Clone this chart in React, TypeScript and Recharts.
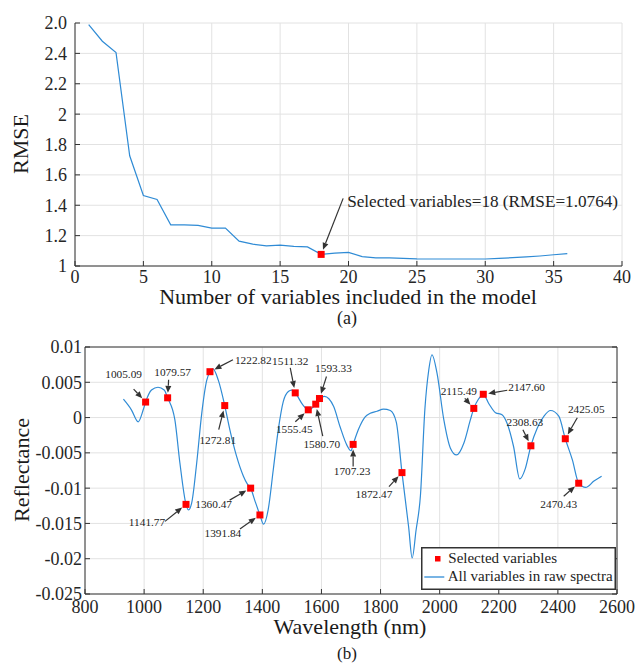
import React from 'react'
import {
    ComposedChart,
    Line,
    Scatter,
    XAxis,
    YAxis,
    CartesianGrid,
    Legend
} from 'recharts'

const serif = 'Liberation Serif, Times New Roman, serif'
const blue = '#2f8bd5'
const dark = '#333333'
const gridColor = '#e2e2e2'

// (a) RMSE against number of variables
const nVars = [1, 2, 3, 4, 5, 6, 7, 8, 9, 10, 11, 12, 13, 14, 15, 16, 17, 18,
    19, 20, 21, 22, 23, 24, 25, 26, 27, 28, 29, 30, 31, 32, 33, 34, 35, 36]
const rmse = [2.59, 2.48, 2.405, 1.726, 1.464, 1.438, 1.271, 1.271, 1.267, 1.249,
    1.249, 1.164, 1.144, 1.133, 1.138, 1.129, 1.126, 1.0764, 1.085, 1.09, 1.062,
    1.054, 1.053, 1.05, 1.047, 1.046, 1.046, 1.046, 1.046, 1.046, 1.05, 1.055,
    1.06, 1.066, 1.074, 1.082]
const bestN = 18
const bestRmse = 1.0764
const nTicks = [0, 5, 10, 15, 20, 25, 30, 35, 40]
const rmseTicks = [1, 1.2, 1.4, 1.6, 1.8, 2, 2.2, 2.4, 2.6]
const rmseTickLabels = ['1', '1.2', '1.4', '1.6', '1.8', '2', '2.2', '2.4', '2.0']

// (b) raw spectrum and the selected wavelengths
const wavelength = [930, 957, 980, 997, 1005.09, 1025, 1047, 1068, 1079.57, 1104,
    1121, 1141.77, 1150, 1161, 1178, 1195, 1212, 1222.82, 1233, 1251, 1272.81,
    1290, 1313, 1336, 1349, 1360.47, 1375, 1391.84, 1404, 1420, 1437, 1454, 1471,
    1488, 1499, 1511.32, 1537, 1555.45, 1580.7, 1593.33, 1610, 1641, 1663, 1686,
    1700, 1707.23, 1725, 1748, 1765, 1788, 1810, 1833, 1853, 1872.47, 1895, 1907,
    1920, 1935, 1950, 1963, 1974, 1991, 2014, 2036, 2057, 2082, 2104, 2115.49,
    2131, 2147.6, 2166, 2189, 2211, 2228, 2250, 2271, 2290, 2308.63, 2330, 2353,
    2375, 2403, 2425.05, 2449, 2470.43, 2494, 2522, 2548]
const reflectance = [0.0026, 0.0011, -0.0006, 0.0011, 0.0022, 0.0039, 0.0043,
    0.0039, 0.0028, -0.0003, -0.0064, -0.0123, -0.0131, -0.0121, -0.0064, 0.0006,
    0.0053, 0.0065, 0.0069, 0.0053, 0.0017, -0.0017, -0.0055, -0.0083, -0.0094,
    -0.01, -0.0118, -0.0138, -0.0151, -0.013, -0.0074, -0.0017, 0.0023, 0.0037,
    0.0039, 0.0035, 0.0018, 0.0011, 0.0019, 0.0027, 0.003, 0.0016, -0.0013,
    -0.0039, -0.0047, -0.0038, -0.0017, 0.0001, 0.0006, 0.0009, 0.0012, 0.001,
    -0.0006, -0.0078, -0.0155, -0.0199, -0.016, -0.011, 0.0012, 0.0067, 0.0089,
    0.0063, -0.0003, -0.0043, -0.0053, -0.0036, -0.0003, 0.0013, 0.0026, 0.0033,
    0.002, 0.0007, 0.0004, -0.0008, -0.0041, -0.0087, -0.0072, -0.004, -0.0015,
    0.0002, 0.001, 0.0002, -0.003, -0.006, -0.0093, -0.0099, -0.009, -0.0083]
const selectedWl = [1005.09, 1079.57, 1141.77, 1222.82, 1272.81, 1360.47, 1391.84,
    1511.32, 1555.45, 1580.70, 1593.33, 1707.23, 1872.47, 2115.49, 2147.60,
    2308.63, 2425.05, 2470.43]
const selectedR = [0.0022, 0.0028, -0.0123, 0.0065, 0.0017, -0.01, -0.0138, 0.0035,
    0.0011, 0.0019, 0.0027, -0.0038, -0.0078, 0.0013, 0.0033, -0.004, -0.003,
    -0.0093]
const wlTicks = [800, 1000, 1200, 1400, 1600, 1800, 2000, 2200, 2400, 2600]
const reflTicks = [-0.025, -0.02, -0.015, -0.01, -0.005, 0, 0.005, 0.01]
const reflTickLabels = ['-0.025', '-0.02', '-0.015', '-0.01', '-0.005', '0', '0.005', '0.01']

// where each wavelength label sits relative to its marker:
// [text dx, text baseline dy, arrow tail dx, arrow tail dy, anchor]
const callouts: [number, number, number, number, string][] = [
    [-22, -24, -12, -13, 'middle'],
    [5, -22, 1, -18, 'middle'],
    [-39, 22, -21, 17, 'middle'],
    [25, -8, 23, -12, 'start'],
    [-7, 38, -6, 24, 'middle'],
    [-37, 20, -21, 12, 'middle'],
    [-37, 22, -20, 14, 'middle'],
    [-5, -28, -5, -25, 'middle'],
    [-14, 23, -13, 12, 'middle'],
    [6, 44, 7, 32, 'middle'],
    [14, -27, 7, -22, 'middle'],
    [-1, 31, 0, 22, 'middle'],
    [-28, 25, -13, 14, 'middle'],
    [-15, -13, -9, -10, 'middle'],
    [25, -3, 24, -4, 'start'],
    [-6, -20, -8, -16, 'middle'],
    [21, -26, 12, -21, 'middle'],
    [-20, 25, -15, 13, 'middle']
]

const rmseData = nVars.map((n, i) => ({ n, rmse: rmse[i] }))
const bestData = [{ n: bestN, rmse: bestRmse }]
const spectrum = wavelength.map((wl, i) => ({ wl, r: reflectance[i] }))
const selected = selectedWl.map((wl, i) => ({ wl, r: selectedR[i], i }))

const labelFrom = (ticks: number[], labels: string[]) => (v: number) => {
    const k = ticks.findIndex(t => Math.abs(t - v) < 1e-9)
    return k >= 0 ? labels[k] : String(v)
}

// serif tick text; bottom ticks hang below the axis, left ticks are centred on it
const makeTick = (fmt: (v: number) => string, side: 'bottom' | 'left') => (p: any) => (
    <text x={p.x} y={p.y} dy={side === 'bottom' ? '0.71em' : '0.355em'}
        textAnchor={side === 'bottom' ? 'middle' : 'end'}
        fontSize={18} fontFamily={serif} fill="#262626">
        {fmt(p.payload.value)}
    </text>
)

const Arrow = ({ x1, y1, x2, y2 }: { x1: number, y1: number, x2: number, y2: number }) => {
    const len = Math.hypot(x2 - x1, y2 - y1) || 1
    const ux = (x2 - x1) / len
    const uy = (y2 - y1) / len
    // stop at the marker edge
    const ex = x2 - ux * 5
    const ey = y2 - uy * 5
    const bx = ex - ux * 7
    const by = ey - uy * 7
    const pts = `${ex},${ey} ${bx - uy * 3},${by + ux * 3} ${bx + uy * 3},${by - ux * 3}`
    return (
        <g>
            <line x1={x1} y1={y1} x2={bx} y2={by} stroke={dark} strokeWidth={1.2} />
            <polygon points={pts} fill={dark} />
        </g>
    )
}

const BestMarker = (props: any) => {
    const { cx, cy } = props
    return (
        <g>
            <Arrow x1={cx + 22} y1={cy - 56} x2={cx} y2={cy} />
            <rect x={cx - 3.5} y={cy - 3.5} width={7} height={7} fill="#ff0000" />
            <text x={cx + 26} y={cy - 47.4} fontSize={17.2} fontFamily={serif} fill="#222">
                {`Selected variables=${bestN} (RMSE=${bestRmse})`}
            </text>
        </g>
    )
}

const SelectedMarker = (props: any) => {
    const { cx, cy, payload } = props
    const [tx, ty, ax, ay, anchor] = callouts[payload.i]
    return (
        <g>
            <Arrow x1={cx + ax} y1={cy + ay} x2={cx} y2={cy} />
            <rect x={cx - 3.5} y={cy - 3.5} width={7} height={7} fill="#ff0000" />
            <text x={cx + tx} y={cy + ty} textAnchor={anchor as any} fontSize={11.3}
                fontFamily={serif} fill="#222">
                {payload.wl.toFixed(2)}
            </text>
        </g>
    )
}

const SpectraLegend = () => (
    <svg width={195} height={43} style={{ display: 'block' }}>
        <rect x={0.75} y={0.75} width={193.5} height={41.5} fill="#fff" stroke={dark} strokeWidth={1.5} />
        <rect x={14} y={9} width={5.5} height={5.5} fill="#ff0000" />
        <text x={27.3} y={15.5} fontSize={15} fontFamily={serif} fill="#222">Selected variables</text>
        <line x1={3.3} y1={30} x2={23.3} y2={30} stroke={blue} strokeWidth={1.3} />
        <text x={26.7} y={34.2} fontSize={15} fontFamily={serif} fill="#222">All variables in raw spectra</text>
    </svg>
)

const App = () => {
    return (
        <div style={{ position: 'absolute', left: 0, top: 0, width: 637, height: 663, background: '#fff', fontFamily: serif }}>
            <div style={{ position: 'absolute', left: 0, top: 0 }}>
                <ComposedChart width={637} height={320} data={rmseData}
                    margin={{ top: 23, right: 15, left: 0, bottom: 24 }}>
                    <CartesianGrid stroke={gridColor} />
                    <XAxis dataKey="n" type="number" domain={[0, 40]} ticks={nTicks} interval={0}
                        height={30} tick={makeTick(String, 'bottom')} tickSize={-5} tickMargin={9}
                        stroke={dark} allowDataOverflow />
                    <YAxis type="number" domain={[1, 2.6]} ticks={rmseTicks} interval={0}
                        width={75} tick={makeTick(labelFrom(rmseTicks, rmseTickLabels), 'left')}
                        tickSize={-5} tickMargin={13} stroke={dark} allowDataOverflow />
                    <Line dataKey="rmse" stroke={blue} strokeWidth={1.2} dot={false}
                        isAnimationActive={false} />
                    <Scatter data={bestData} dataKey="rmse" shape={BestMarker}
                        isAnimationActive={false} />
                </ComposedChart>
            </div>
            <div style={{ position: 'absolute', left: 0, top: 320 }}>
                <ComposedChart width={637} height={343}
                    margin={{ top: 26, right: 19, left: 0, bottom: 39 }}>
                    <CartesianGrid stroke={gridColor} />
                    <XAxis dataKey="wl" type="number" domain={[800, 2600]} ticks={wlTicks}
                        interval={0} height={30} tick={makeTick(String, 'bottom')} tickSize={-5}
                        tickMargin={11} stroke={dark} allowDataOverflow />
                    <XAxis xAxisId="top" orientation="top" type="number" domain={[800, 2600]}
                        ticks={wlTicks} interval={0} height={1} tickSize={-5}
                        tickFormatter={() => ''} stroke={dark} allowDataOverflow />
                    <YAxis dataKey="r" type="number" domain={[-0.025, 0.01]} ticks={reflTicks}
                        interval={0} width={85}
                        tick={makeTick(labelFrom(reflTicks, reflTickLabels), 'left')}
                        tickSize={-5} tickMargin={8} stroke={dark} allowDataOverflow />
                    <YAxis yAxisId="right" orientation="right" type="number"
                        domain={[-0.025, 0.01]} ticks={reflTicks} interval={0} width={1}
                        tickSize={-5} tickFormatter={() => ''} stroke={dark} allowDataOverflow />
                    <Line data={spectrum} dataKey="r" type="monotone" stroke={blue}
                        strokeWidth={1.2} dot={false} isAnimationActive={false} />
                    <Scatter data={selected} dataKey="r" shape={SelectedMarker}
                        isAnimationActive={false} />
                    <Legend layout="horizontal" verticalAlign="middle" align="center"
                        content={SpectraLegend}
                        wrapperStyle={{ left: 421, top: 226.7, width: 195, height: 43 }} />
                </ComposedChart>
            </div>
            <svg width={637} height={663}
                style={{ position: 'absolute', left: 0, top: 0, pointerEvents: 'none' }}
                fontFamily={serif} fill="#1a1a1a">
                <text x={28} y={144} fontSize={22} textAnchor="middle"
                    transform="rotate(-90, 28, 144)">RMSE</text>
                <text x={348} y={304} fontSize={22} textAnchor="middle">
                    Number of variables included in the model
                </text>
                <text x={347} y={324} fontSize={18} textAnchor="middle">(a)</text>
                <text x={29} y={470} fontSize={22} textAnchor="middle"
                    transform="rotate(-90, 29, 470)">Reflectance</text>
                <text x={350} y={634} fontSize={22} textAnchor="middle">Wavelength (nm)</text>
                <text x={347} y={659} fontSize={17} textAnchor="middle">(b)</text>
            </svg>
        </div>
    )
}

export default App
